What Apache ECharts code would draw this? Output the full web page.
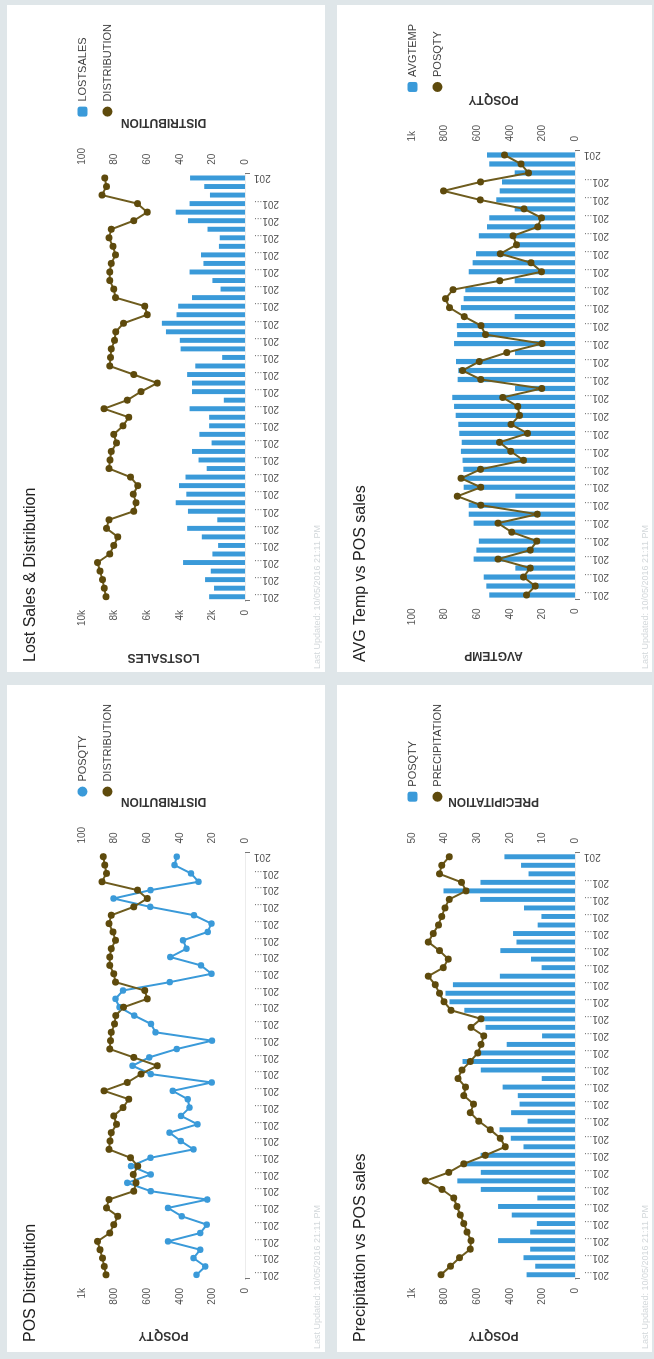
<!DOCTYPE html>
<html>
<head>
<meta charset="utf-8">
<script src="https://cdn.jsdelivr.net/npm/echarts@6/dist/echarts.min.js"></script>
<style>
  html, body { margin: 0; padding: 0; background: #dfe6e9; overflow: hidden; }
  /* dashboard is laid out landscape and turned a quarter turn to fit the portrait page */
  #board {
    position: absolute; left: 0; top: 0; width: 1359px; height: 654px;
    background: #dfe6e9; transform-origin: 0 0;
    transform: translate(0, 1359px) rotate(-90deg);
  }
  .panel { position: absolute; background: #ffffff; }
</style>
</head>
<body>
<div id="board">
  <div class="panel" id="posDist" style="left:7px;top:7px;width:667px;height:318px"></div>
  <div class="panel" id="lostDist" style="left:687px;top:7px;width:667px;height:318px"></div>
  <div class="panel" id="precipPos" style="left:7px;top:337px;width:667px;height:315px"></div>
  <div class="panel" id="tempPos" style="left:687px;top:337px;width:667px;height:315px"></div>
</div>
<script>
// ---- data (weekly) ----
const weeks = [
  "201538","201539","201540","201541","201542","201543","201544","201545","201546","201547",
  "201548","201549","201550","201551","201552","201601","201602","201603","201604","201605",
  "201606","201607","201608","201609","201610","201611","201612","201613","201614","201615",
  "201616","201617","201618","201619","201620","201621","201622","201623","201624","201625",
  "201626","201627","201628","201629","201630","201631","201632","201633","201634","201635",
  "201636"
];
const posQty = [
  297, 244, 316, 275, 472, 275, 234, 388, 472, 231,
  578, 722, 578, 699, 579, 316, 394, 463, 291, 392,
  340, 351, 444, 204, 578, 690, 588, 419, 202, 549,
  577, 679, 770, 795, 749, 461, 205, 270, 458, 359,
  380, 229, 206, 313, 582, 807, 580, 285, 331, 433,
  419
];
const distribution = [
  85.3, 86.3, 87.5, 89, 90.5, 83, 80.5, 78, 85, 83.5,
  68.3, 66.8, 68.5, 65.8, 70.3, 83.5, 82.8, 82, 78.8, 80.5,
  74.8, 71.3, 86.5, 72.3, 63.8, 53.8, 68.3, 83, 82.5, 82,
  80, 79.3, 74.5, 60, 61.5, 79.5, 80.5, 83, 83, 82,
  79.5, 81, 83.5, 82, 68.3, 60, 66, 87.8, 85, 86,
  87
];
const lostSales = [
  2200, 1900, 2450, 2100, 3800, 2000, 1650, 2650, 3550, 1700,
  3500, 4250, 3600, 4050, 3650, 2350, 2850, 3250, 2050, 2800,
  2200, 2200, 3400, 1300, 3250, 3250, 3550, 3050, 1400, 3950,
  4000, 4850, 5100, 4200, 4100, 3250, 1500, 2000, 3400, 2550,
  2700, 1600, 1550, 2300, 3500, 4250, 3400, 2150, 2500, 3370
];
const avgTemp = [
  52.6, 54.4, 56, 36.6, 62.2, 60.5, 59, 37, 62.2, 65.2,
  65.2, 36.6, 68.3, 70.3, 68.5, 69, 70, 69.5, 71, 71.6,
  73.2, 74.2, 75.3, 36.8, 72, 71.6, 73, 36.8, 74.2, 72.3,
  72.5, 37, 70, 68.3, 67.3, 37, 65.2, 62.8, 60.7, 37,
  59, 54, 52.6, 37, 48.3, 46.2, 44.8, 37, 52.6, 54
];
const precipitation = [
  41.1, 38.2, 35.4, 32.1, 31.9, 33.1, 34.1, 35.2, 36.2, 37.2,
  40.8, 45.9, 38.7, 34.1, 27.5, 21.4, 22.9, 26, 29.5, 32.1,
  31.1, 34.1, 33.6, 35.9, 34.7, 32.1, 29.8, 28.8, 28, 31.9,
  28.8, 38, 40.2, 41.6, 42.9, 45, 40.4, 38.9, 41.6, 45,
  43.5, 41.9, 40.9, 39.9, 38.6, 33.4, 34.8, 41.6, 40.9, 38.6
];
const updatedText = "Last Updated: 10/05/2016 21:11 PM";

// ---- styling ----
const FONT = "'Liberation Sans', Arial, Helvetica, sans-serif";
const BLUE = "#3a9ad9";
const OLIVE_LINE = "#6e5c1e";
const OLIVE_DOT = "#5e4a0c";
const AXIS_GREY = "#777777";

const kFmt = v => (v === 0 ? "0" : (v / 1000) + "k");
const plainFmt = v => String(v);
const thousandFmt = v => (v === 1000 ? "1k" : String(v));

function categoryAxes(cats) {
  const n = cats.length;
  return [{
    type: "category", data: cats, boundaryGap: true,
    axisLine: { lineStyle: { color: AXIS_GREY, width: 1 } },
    axisTick: { show: true, length: 5, interval: i => i === 0, lineStyle: { color: AXIS_GREY } },
    axisLabel: {
      rotate: 90, margin: 9, fontSize: 10, color: "#555", fontFamily: FONT,
      interval: i => (i % 2 === 0 && i < n - 2) || i === n - 1,
      formatter: (v, i) => (i === n - 1 ? v.slice(0, 3) : v.slice(0, 3) + "...")
    }
  }, {
    // faint rule along the top of the plot
    type: "category", data: cats, position: "top",
    axisLine: { lineStyle: { color: "#ececec", width: 1 } },
    axisTick: { show: false }, axisLabel: { show: false }
  }];
}

function valueAxis(name, max, interval, fmt, position, gap) {
  return {
    type: "value", name: name, nameLocation: "middle", nameGap: gap, position: position,
    min: 0, max: max, interval: interval,
    nameTextStyle: { fontSize: 12, fontWeight: "bold", color: "#333", fontFamily: FONT },
    axisLine: { show: false }, axisTick: { show: false }, splitLine: { show: false },
    axisLabel: { fontSize: 10, color: "#555", margin: 9, fontFamily: FONT, formatter: fmt }
  };
}

function barSeries(name, data, yIndex) {
  return { name: name, type: "bar", yAxisIndex: yIndex, barCategoryGap: "42%",
    itemStyle: { color: BLUE }, data: data };
}
function lineSeries(name, data, yIndex, color, dot, size) {
  return { name: name, type: "line", yAxisIndex: yIndex, symbol: "circle", symbolSize: size,
    showAllSymbol: true,
    lineStyle: { color: color, width: 2 }, itemStyle: { color: dot }, data: data };
}

function panelOption(cfg) {
  return {
    animation: false,
    backgroundColor: "#ffffff",
    title: [{
      text: cfg.title, left: 10, top: 16, padding: 0,
      textStyle: { fontSize: 16, fontWeight: "normal", color: "#222", fontFamily: FONT }
    }, {
      text: updatedText, left: 3, top: cfg.footerTop, padding: 0,
      textStyle: { fontSize: 9, fontWeight: "normal", color: "#d3d8db", fontFamily: FONT }
    }],
    legend: {
      orient: "vertical", right: 14, top: 65, itemWidth: 10, itemHeight: 10, itemGap: 14,
      textStyle: { fontSize: 11, color: "#444", fontFamily: FONT },
      data: cfg.legend
    },
    grid: { left: cfg.left, right: cfg.right, top: 75, bottom: cfg.bottom },
    xAxis: categoryAxes(cfg.cats),
    yAxis: [cfg.yLeft, cfg.yRight],
    series: cfg.series
  };
}

const cats50 = weeks.slice(0, 50);

const panels = [
  ["posDist", {
    title: "POS Distribution", footerTop: 306, left: 73, right: 167.5, bottom: 80,
    cats: weeks,
    legend: [{ name: "POSQTY", icon: "circle" }, { name: "DISTRIBUTION", icon: "circle" }],
    yLeft: valueAxis("POSQTY", 1000, 200, thousandFmt, "left", 50),
    yRight: valueAxis("DISTRIBUTION", 100, 20, plainFmt, "right", 45),
    series: [
      lineSeries("POSQTY", posQty, 0, BLUE, BLUE, 6.5),
      lineSeries("DISTRIBUTION", distribution, 1, OLIVE_LINE, OLIVE_DOT, 7)
    ]
  }],
  ["lostDist", {
    title: "Lost Sales & Distribution", footerTop: 306, left: 71, right: 168.7, bottom: 80,
    cats: cats50,
    legend: [{ name: "LOSTSALES", icon: "roundRect" }, { name: "DISTRIBUTION", icon: "circle" }],
    yLeft: valueAxis("LOSTSALES", 10000, 2000, kFmt, "left", 50),
    yRight: valueAxis("DISTRIBUTION", 100, 20, plainFmt, "right", 45),
    series: [
      barSeries("LOSTSALES", lostSales, 0),
      lineSeries("DISTRIBUTION", distribution.slice(0, 50), 1, OLIVE_LINE, OLIVE_DOT, 7)
    ]
  }],
  ["precipPos", {
    title: "Precipitation vs POS sales", footerTop: 304, left: 73, right: 167.5, bottom: 77,
    cats: cats50,
    legend: [{ name: "POSQTY", icon: "roundRect" }, { name: "PRECIPITATION", icon: "circle" }],
    yLeft: valueAxis("POSQTY", 1000, 200, thousandFmt, "left", 50),
    yRight: valueAxis("PRECIPITATION", 50, 10, plainFmt, "right", 45),
    series: [
      barSeries("POSQTY", posQty.slice(0, 50), 0),
      lineSeries("PRECIPITATION", precipitation, 1, OLIVE_LINE, OLIVE_DOT, 7)
    ]
  }],
  ["tempPos", {
    title: "AVG Temp vs POS sales", footerTop: 304, left: 72.5, right: 145.5, bottom: 77,
    cats: cats50,
    legend: [{ name: "AVGTEMP", icon: "roundRect" }, { name: "POSQTY", icon: "circle" }],
    yLeft: valueAxis("AVGTEMP", 100, 20, plainFmt, "left", 50),
    yRight: valueAxis("POSQTY", 1000, 200, thousandFmt, "right", 45),
    series: [
      barSeries("AVGTEMP", avgTemp, 0),
      lineSeries("POSQTY", posQty.slice(0, 50), 1, OLIVE_LINE, OLIVE_DOT, 7)
    ]
  }]
];

panels.forEach(([id, cfg]) => {
  const chart = echarts.init(document.getElementById(id), null, { renderer: "canvas" });
  chart.setOption(panelOption(cfg));
});
</script>
</body>
</html>
